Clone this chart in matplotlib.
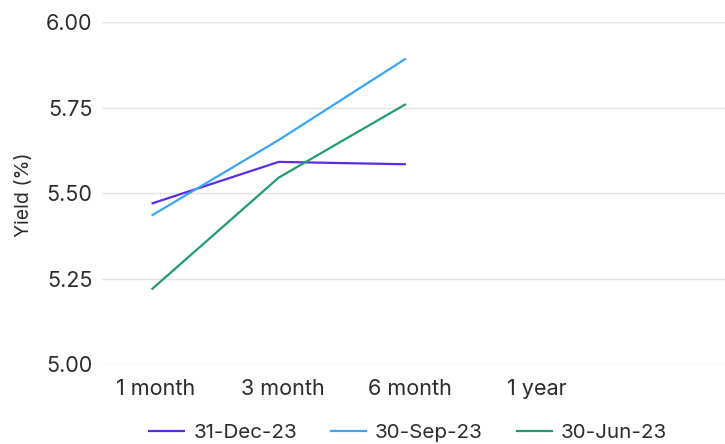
import numpy as np
import matplotlib
matplotlib.use("Agg")
import matplotlib.pyplot as plt

# Data
tenors = ["1 month", "3 month", "6 month", "1 year"]
dec_23 = [5.469, 5.591, 5.584]
sep_23 = [5.434, 5.655, 5.893]
jun_23 = [5.218, 5.545, 5.760]
series_names = ["31-Dec-23", "30-Sep-23", "30-Jun-23"]
series_colors = ["#5a2ae6", "#3aa6fb", "#1f9d6e"]
y_ticks = [5.00, 5.25, 5.50, 5.75, 6.00]

plt.rcParams['font.family'] = ['Inter', 'DejaVu Sans']
text_color = "#2b2b2b"

fig = plt.figure(figsize=(7.25, 4.44), dpi=100)
ax = fig.add_axes([102 / 725, 1 - 364 / 444, 1 - 102 / 725, (364 - 22) / 444])

x = np.arange(len(dec_23))
for vals, name, col in zip([dec_23, sep_23, jun_23], series_names, series_colors):
    ax.plot(x, vals, color=col, lw=1.6, label=name, solid_capstyle="butt")

ax.set_ylim(5.0, 6.0)
ax.set_xlim(-0.39, 4.51)
ax.set_yticks(y_ticks)
ax.set_yticklabels([f"{v:.2f}" for v in y_ticks])
ax.set_xticks(np.arange(len(tenors)) + 0.03)
ax.set_xticklabels(tenors)
ax.grid(axis="y", color="#e3e3e3", lw=1.0)
ax.set_axisbelow(True)
for s in ax.spines.values():
    s.set_visible(False)
ax.tick_params(axis="both", length=0, labelsize=15.5, colors=text_color)
ax.tick_params(axis="y", pad=7)
ax.tick_params(axis="x", pad=11)
ax.set_ylabel("Yield (%)", fontsize=14, color=text_color)
ax.yaxis.set_label_coords(-0.11, 0.495)

leg = fig.legend(loc="center", bbox_to_anchor=(0.562, 1 - 433 / 444),
                 ncol=3, frameon=False, fontsize=14.8, handlelength=1.8,
                 columnspacing=1.6, handletextpad=0.4)
for t in leg.get_texts():
    t.set_color(text_color)

fig.savefig("out.png", dpi=100)
